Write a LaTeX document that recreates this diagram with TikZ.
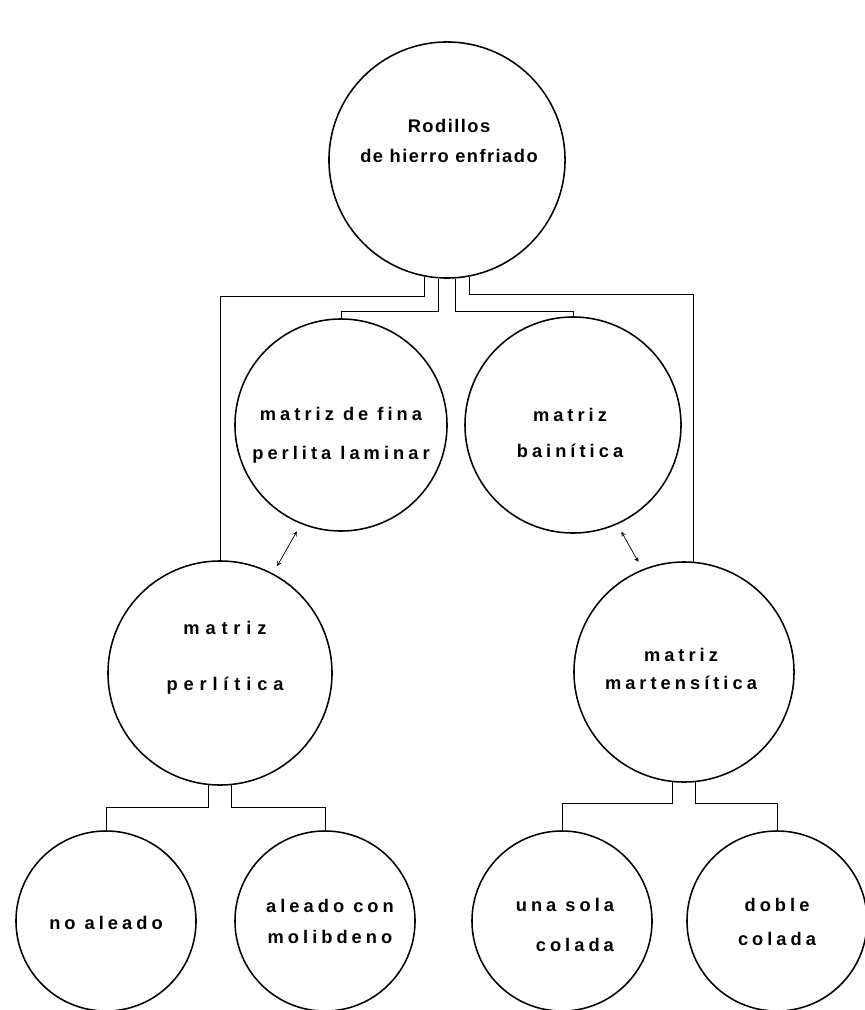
\documentclass[tikz,border=0pt]{standalone}
\usepackage{fontspec}
\setmainfont{Liberation Sans}[LetterSpace=22]
\usetikzlibrary{arrows, positioning}

\begin{document}
\begin{tikzpicture}[
    x=0.025cm, y=-0.025cm,
    bola/.style={circle, draw, line width=1.1pt, inner sep=0pt},
    txt/.style={align=center, font=\bfseries\fontsize{13}{22}\selectfont},
    txtjunto/.style={txt, font=\bfseries\fontsize{13}{22}\selectfont\addfontfeatures{LetterSpace=8}},
    txtancho/.style={txt, font=\bfseries\fontsize{13}{22}\selectfont\addfontfeatures{LetterSpace=32}},
    rama/.style={line width=0.7pt},
    flecha/.style={line width=0.5pt, <->, >=stealth}
]
\useasboundingbox (0,0) rectangle (865,1010);

% Circles
\node (raiz) [bola, minimum size=5.9cm] at (447,160) {};
\node (fina) [bola, minimum size=5.3cm] at (341,425) {};
\node (bain) [bola, minimum size=5.4cm] at (573,425) {};
\node (perl) [bola, minimum size=5.6cm] at (220,673) {};
\node (mart) [bola, minimum size=5.5cm] at (684,672) {};
\node (noal) [bola, minimum size=4.5cm] at (106,921) {};
\node (molib) [bola, minimum size=4.5cm] at (325,921) {};
\node (una) [bola, minimum size=4.5cm] at (562,921) {};
\node (doble) [bola, minimum size=4.5cm] at (777,921) {};

% Texts
\node (raiz-t) [txtjunto] at (449,141) {Rodillos\\de hierro enfriado};
\node (fina-t) [txt] at (341,435) {matriz de fina\\[6pt]perlita laminar};
\node (bain-t) [txt] at (570,433) {matriz\\[4pt]bainítica};
\node (perl-t) [txtancho] at (225,658) {matriz\\[18pt]perlítica};
\node (mart-t) [txt] at (681,669) {matriz\\[-2pt]martensítica};
\node (noal-t) [txt] at (106,923) {no aleado};
\node (molib-t) [txt] at (330,921) {aleado con\\molibdeno};
\node (una-t) [txt] at (565,925) {una sola\\[6pt]\hspace*{14pt}colada};
\node (doble-t) [txt] at (777,922) {doble\\[2pt]colada};

% Branches
\draw [rama] (raiz.259) -- ++(0,20) -| (perl.north);
\draw [rama] (raiz.266) -- ++(0,33) -| (fina.north);
\draw [rama] (raiz.274) -- ++(0,33) -| (bain.north);
\draw [rama] (raiz.281) -- ++(0,18) -| (mart.85);

\draw [rama] (perl.264) -- ++(0,22) -| (noal.north);
\draw [rama] (perl.276) -- ++(0,22) -| (molib.north);
\draw [rama] (mart.264) -- ++(0,21) -| (una.north);
\draw [rama] (mart.276) -- ++(0,21) -| (doble.north);

% Arrows
\draw [flecha, shorten <=6pt, shorten >=6pt] (fina.248) -- (perl.62);
\draw [flecha, shorten <=6pt, shorten >=6pt] (bain.294) -- (mart.112);

\end{tikzpicture}
\end{document}
